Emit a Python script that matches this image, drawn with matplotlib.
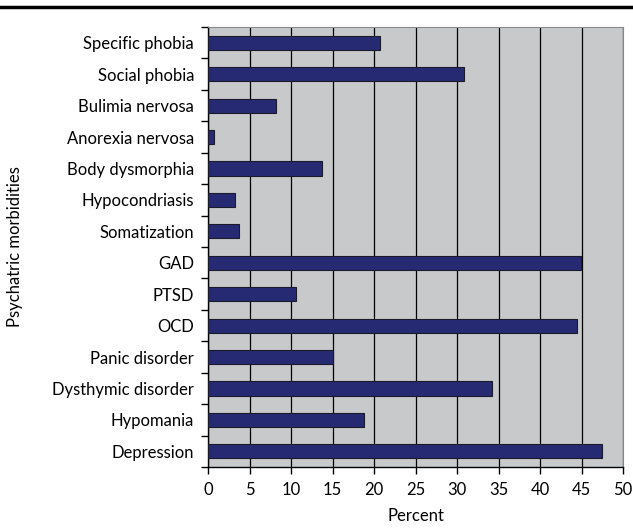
import matplotlib
matplotlib.use("Agg")
import matplotlib.pyplot as plt

categories = ["Depression", "Hypomania", "Dysthymic disorder", "Panic disorder", "OCD",
              "PTSD", "GAD", "Somatization", "Hypocondriasis", "Body dysmorphia",
              "Anorexia nervosa", "Bulimia nervosa", "Social phobia", "Specific phobia"]
values = [47.5, 18.8, 34.2, 15.1, 44.4, 10.6, 44.9, 3.7, 3.3, 13.7, 0.7, 8.2, 30.9, 20.7]
xticks = [0, 5, 10, 15, 20, 25, 30, 35, 40, 45, 50]

plt.rcParams['font.family'] = ['Lato', 'DejaVu Sans']
fs = 12
fig = plt.figure(figsize=(6.33, 5.29), dpi=100)
ax = fig.add_axes([208/633, 1-467/529, 415/633, 440/529])
ax.set_facecolor('#C8C9CB')
ypos = list(range(len(categories)))
ax.barh(ypos, values, height=0.45, color='#262A72', edgecolor='#1a1a2a', linewidth=0.8, zorder=3)
ax.set_xlim(0, 50)
ax.set_ylim(-0.5, len(categories) - 0.5)
ax.set_xticks(xticks)
ax.set_xticklabels([str(t) for t in xticks], fontsize=fs)
ax.xaxis.grid(True, color='black', linewidth=0.9, zorder=1)
ax.set_axisbelow(True)
ax.set_yticks([i - 0.5 for i in range(len(categories) + 1)])
ax.set_yticklabels([])
ax.set_yticks(ypos, minor=True)
ax.set_yticklabels(categories, minor=True, fontsize=fs)
ax.tick_params(axis='y', which='minor', length=0, pad=10)
ax.tick_params(axis='y', which='major', length=5, direction='out', width=1)
ax.tick_params(axis='x', length=5, width=1, pad=6)
for s in ['top', 'right']:
    ax.spines[s].set_color('#888888')
    ax.spines[s].set_linewidth(0.8)
ax.spines['left'].set_linewidth(1)
ax.spines['bottom'].set_linewidth(1)
ax.set_xlabel('Percent', fontsize=fs)
ax.xaxis.set_label_coords(0.5, -41/440)
ax.set_ylabel('Psychatric morbidities', fontsize=fs)
ax.yaxis.set_label_coords(-185/415, 0.5)
fig.add_artist(plt.Line2D([0, 1], [1-6.5/529, 1-6.5/529], color='black', linewidth=2.5, transform=fig.transFigure))
fig.savefig('out.png', dpi=100)
